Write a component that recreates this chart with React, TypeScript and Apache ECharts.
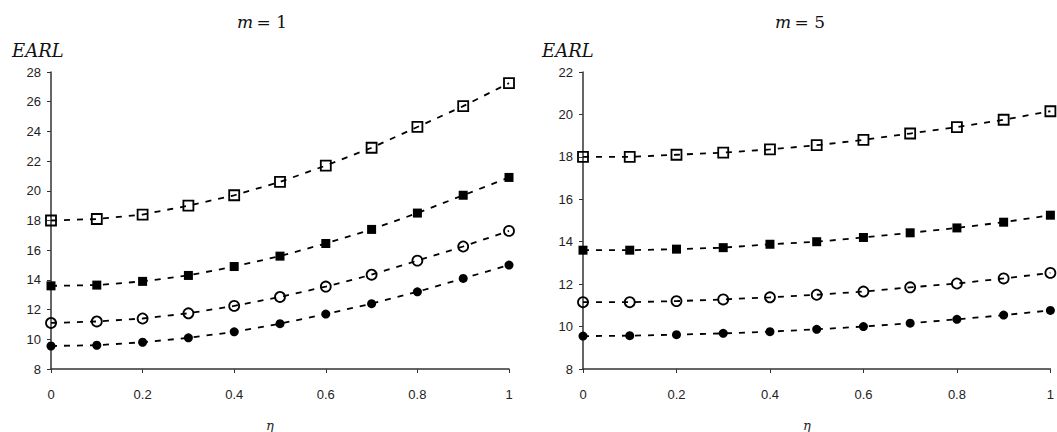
import React, { useEffect, useRef } from "react";
import * as echarts from "echarts";

const eta = [0, 0.1, 0.2, 0.3, 0.4, 0.5, 0.6, 0.7, 0.8, 0.9, 1];
const yTicksLeft = { min: 8, max: 28, interval: 2 };
const yTicksRight = { min: 8, max: 22, interval: 2 };

// m = 1
const m1OpenSquare = [18.0, 18.1, 18.4, 19.0, 19.7, 20.6, 21.7, 22.9, 24.3, 25.7, 27.25];
const m1FilledSquare = [13.6, 13.65, 13.9, 14.3, 14.9, 15.6, 16.45, 17.4, 18.5, 19.7, 20.9];
const m1OpenCircle = [11.1, 11.2, 11.4, 11.75, 12.25, 12.85, 13.55, 14.35, 15.3, 16.25, 17.3];
const m1FilledCircle = [9.55, 9.6, 9.8, 10.1, 10.5, 11.05, 11.7, 12.4, 13.2, 14.1, 15.0];

// m = 5
const m5OpenSquare = [18.0, 18.0, 18.1, 18.2, 18.35, 18.55, 18.8, 19.1, 19.4, 19.75, 20.15];
const m5FilledSquare = [13.6, 13.6, 13.65, 13.72, 13.88, 14.0, 14.2, 14.42, 14.65, 14.92, 15.25];
const m5OpenCircle = [11.15, 11.15, 11.2, 11.28, 11.38, 11.5, 11.65, 11.85, 12.03, 12.27, 12.53];
const m5FilledCircle = [9.55, 9.57, 9.62, 9.68, 9.76, 9.87, 10.0, 10.16, 10.34, 10.54, 10.76];

const pairs = (vals: number[]) => eta.map((e, i) => [e, vals[i]]);

function mkSeries(vals: number[], idx: number, symbol: string, hollow: boolean) {
  return {
    type: "line",
    xAxisIndex: idx,
    yAxisIndex: idx,
    data: pairs(vals),
    symbol,
    symbolSize: hollow ? 10 : 9,
    clip: false,
    lineStyle: { color: "#000", width: 1.8, type: [6, 7] },
    itemStyle: hollow
      ? { color: "rgba(0,0,0,0)", borderColor: "#000", borderWidth: 1.8 }
      : { color: "#000", borderWidth: 0 },
    emphasis: { disabled: true },
  };
}

const axisCommon = {
  axisLine: { show: true, lineStyle: { color: "#333", width: 1.5 } },
  axisTick: { show: true, length: 4, lineStyle: { color: "#333", width: 1 } },
  splitLine: { show: false },
};

export default function App() {
  const ref = useRef<HTMLDivElement>(null);
  useEffect(() => {
    if (!ref.current) return;
    const chart = echarts.init(ref.current, null, { renderer: "svg" });
    const labelStyle = {
      color: "#222",
      fontFamily: "'Liberation Sans', Arial, sans-serif",
      fontSize: 13,
    };
    const serif = "'DejaVu Serif', 'Liberation Serif', serif";
    const titleText = (x: number, label: string) => ({
      type: "text",
      x,
      y: 22,
      style: {
        text: "{i|m} {n|= " + label + "}",
        align: "center",
        verticalAlign: "middle",
        rich: {
          i: { fontFamily: serif, fontStyle: "italic", fontSize: 17, fill: "#111" },
          n: { fontFamily: serif, fontSize: 17, fill: "#111" },
        },
      },
    });
    const earl = (x: number) => ({
      type: "text",
      x,
      y: 50,
      style: {
        text: "EARL",
        align: "left",
        verticalAlign: "middle",
        fontFamily: serif,
        fontStyle: "italic",
        fontSize: 18,
        fill: "#111",
      },
    });
    const etaLabel = (x: number) => ({
      type: "text",
      x,
      y: 425,
      style: {
        text: "η",
        align: "center",
        verticalAlign: "middle",
        fontFamily: serif,
        fontStyle: "italic",
        fontSize: 13,
        fill: "#222",
      },
    });
    chart.setOption({
      animation: false,
      backgroundColor: "#fff",
      grid: [
        { left: 51, right: 548, top: 72, bottom: 63 },
        { left: 583, right: 4, top: 72, bottom: 63 },
      ],
      xAxis: [0, 1].map((g) => ({
        type: "value",
        gridIndex: g,
        min: 0,
        max: 1,
        interval: 0.2,
        ...axisCommon,
        axisLabel: { ...labelStyle, margin: 19 },
      })),
      yAxis: [yTicksLeft, yTicksRight].map((t, g) => ({
        type: "value",
        gridIndex: g,
        min: t.min,
        max: t.max,
        interval: t.interval,
        ...axisCommon,
        axisLabel: { ...labelStyle, margin: 10 },
      })),
      graphic: [
        titleText(262, "1"),
        titleText(800, "5"),
        earl(12),
        earl(542),
        etaLabel(270),
        etaLabel(807),
      ],
      series: [
        mkSeries(m1OpenSquare, 0, "rect", true),
        mkSeries(m1FilledSquare, 0, "rect", false),
        mkSeries(m1OpenCircle, 0, "circle", true),
        mkSeries(m1FilledCircle, 0, "circle", false),
        mkSeries(m5OpenSquare, 1, "rect", true),
        mkSeries(m5FilledSquare, 1, "rect", false),
        mkSeries(m5OpenCircle, 1, "circle", true),
        mkSeries(m5FilledCircle, 1, "circle", false),
      ],
    });
    return () => chart.dispose();
  }, []);
  return (
    <div
      ref={ref}
      style={{ width: 1057, height: 432, position: "absolute", left: 0, top: 0 }}
    />
  );
}
